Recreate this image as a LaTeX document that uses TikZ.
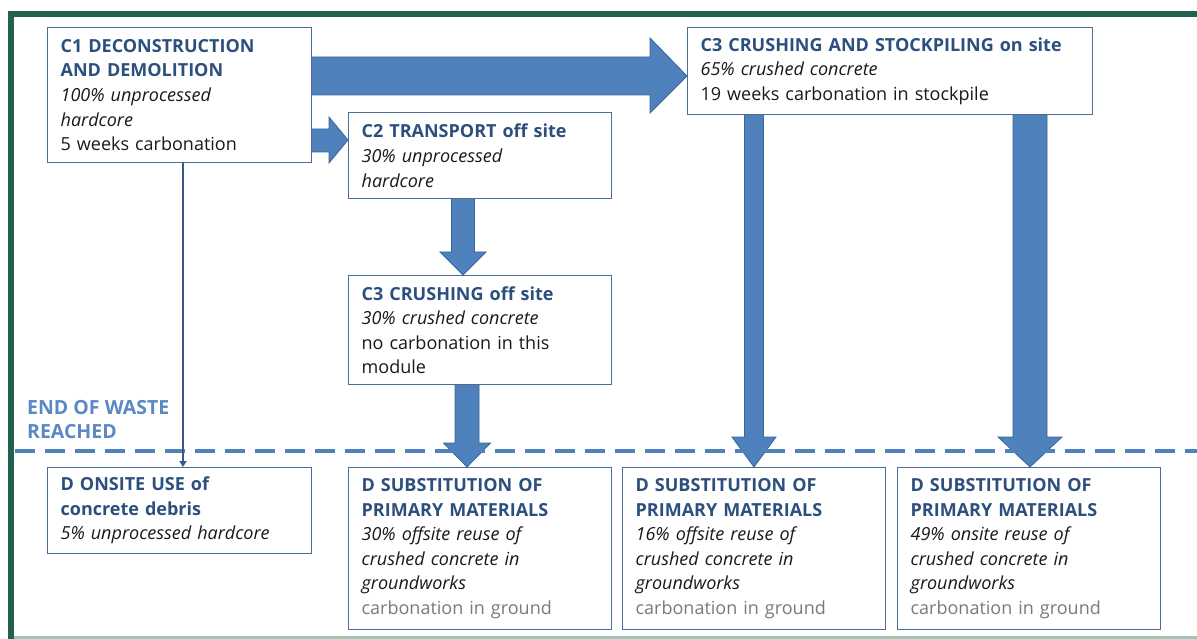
\documentclass[tikz,border=0pt]{standalone}
\usepackage{fontspec}
\setmainfont{Open Sans}
\usetikzlibrary{calc,backgrounds,arrows.meta}
\definecolor{frame}{HTML}{23614F}
\definecolor{framelight}{HTML}{9CC8B8}
\definecolor{ttlblue}{HTML}{2C4F7E}
\definecolor{boxline}{HTML}{4A6E99}
\definecolor{arrfill}{HTML}{4F81BD}
\definecolor{arrline}{HTML}{3A659A}
\definecolor{eowblue}{HTML}{5B88C4}
\definecolor{dashblue}{HTML}{4F81BD}
\definecolor{txtgray}{HTML}{7A7A7A}
\definecolor{linkblue}{HTML}{34598C}
\newcommand{\ttl}[1]{{\bfseries\color{ttlblue}#1}}
\newcommand{\gry}[1]{{\color{txtgray}#1}}
\newcommand{\vblk}[6]{%
\filldraw[blk] ({#3-#4},0 |- #1) -- ($({#3-#4},0 |- #2)+(0,-#6)$) -- ($({#3-#5},0 |- #2)+(0,-#6)$) -- (#3,0 |- #2) -- ($({#3+#5},0 |- #2)+(0,-#6)$) -- ($({#3+#4},0 |- #2)+(0,-#6)$) -- ({#3+#4},0 |- #1) -- cycle;}
\hyphenpenalty=10000
\exhyphenpenalty=10000
\begin{document}
\begin{tikzpicture}[x=1pt,y=-1pt,
 box/.style={draw=boxline, line width=1.3pt, fill=white, anchor=north west, inner xsep=13pt, inner ysep=0pt, align=left, font=\fontsize{18}{24.6}\selectfont, text=black!90},
 blk/.style={fill=arrfill, draw=arrline, line width=0.8pt, line join=miter},
]
\useasboundingbox (0,0) rectangle (1197,639);
% frame
\fill[frame] (8,11) rectangle (1197,17);
\fill[frame] (8,11) rectangle (14,639);
\fill[framelight] (14,636) rectangle (1197,639);
% end of waste line
\draw[dashblue, line width=3.5pt, dash pattern=on 20pt off 10pt] (15,451) -- (1197,451);
\node[anchor=north west, inner sep=0pt, align=left, text=eowblue, font=\fontsize{19.5}{24.6}\selectfont\bfseries] (eow) at (27,400) {END OF WASTE\\REACHED};
% boxes
\node[box, text width=238pt, minimum height=135pt] (C1) at (47,27) {\ttl{C1 DECONSTRUCTION}\\\ttl{AND DEMOLITION}\\\textit{100\% unprocessed}\\\textit{hardcore}\\5 weeks carbonation};
\node[box, text width=237pt, minimum height=86pt] (C2) at (348,112) {\ttl{C2 TRANSPORT off site}\\\textit{30\% unprocessed}\\\textit{hardcore}};
\node[box, text width=237pt, minimum height=109pt] (C3off) at (348,275) {\ttl{C3 CRUSHING off site}\\\textit{30\% crushed concrete}\\no carbonation in this\\module};
\node[box, text width=379pt, minimum height=87pt] (C3on) at (687,27) {\ttl{C3 CRUSHING AND STOCKPILING on site}\\\textit{65\% crushed concrete}\\19 weeks carbonation in stockpile};
\node[box, text width=238pt, minimum height=86pt] (Don) at (47,467) {\ttl{D ONSITE USE of}\\\ttl{concrete debris}\\\textit{5\% unprocessed hardcore}};
\node[box, text width=237pt, minimum height=162pt] (Ds1) at (348,467) {\ttl{D SUBSTITUTION OF}\\\ttl{PRIMARY MATERIALS}\\\textit{30\% offsite reuse of}\\\textit{crushed concrete in}\\\textit{groundworks}\\\gry{carbonation in ground}};
\node[box, text width=237pt, minimum height=162pt] (Ds2) at (622,467) {\ttl{D SUBSTITUTION OF}\\\ttl{PRIMARY MATERIALS}\\\textit{16\% offsite reuse of}\\\textit{crushed concrete in}\\\textit{groundworks}\\\gry{carbonation in ground}};
\node[box, text width=237pt, minimum height=162pt] (Ds3) at (897,467) {\ttl{D SUBSTITUTION OF}\\\ttl{PRIMARY MATERIALS}\\\textit{49\% onsite reuse of}\\\textit{crushed concrete in}\\\textit{groundworks}\\\gry{carbonation in ground}};
% arrows
\begin{scope}[on background layer]
\filldraw[blk] (C1.east |- 0,57) -- ($(C3on.west |- 0,57)+(-37,0)$) -- ($(C3on.west |- 0,38)+(-37,0)$) -- (C3on.west |- 0,76) -- ($(C3on.west |- 0,113)+(-37,0)$) -- ($(C3on.west |- 0,95)+(-37,0)$) -- (C1.east |- 0,95) -- cycle;
\filldraw[blk] (C1.east |- 0,129) -- ($(C2.west |- 0,129)+(-19,0)$) -- ($(C2.west |- 0,117)+(-19,0)$) -- (C2.west |- 0,140) -- ($(C2.west |- 0,163)+(-19,0)$) -- ($(C2.west |- 0,152)+(-19,0)$) -- (C1.east |- 0,152) -- cycle;
\vblk{C2.south}{C3off.north}{463}{11.5}{23}{23}
\vblk{C3off.south}{Ds1.north}{467}{12}{23.5}{24}
\vblk{C3on.south}{Ds2.north}{754}{9.5}{22}{30}
\vblk{C3on.south}{Ds3.north}{1030}{17}{32}{30}
\end{scope}
\draw[linkblue, line width=2.5pt, -{Triangle[length=6pt,width=7pt]}] (183,0 |- C1.south) -- (183,0 |- Don.north);
\end{tikzpicture}
\end{document}
